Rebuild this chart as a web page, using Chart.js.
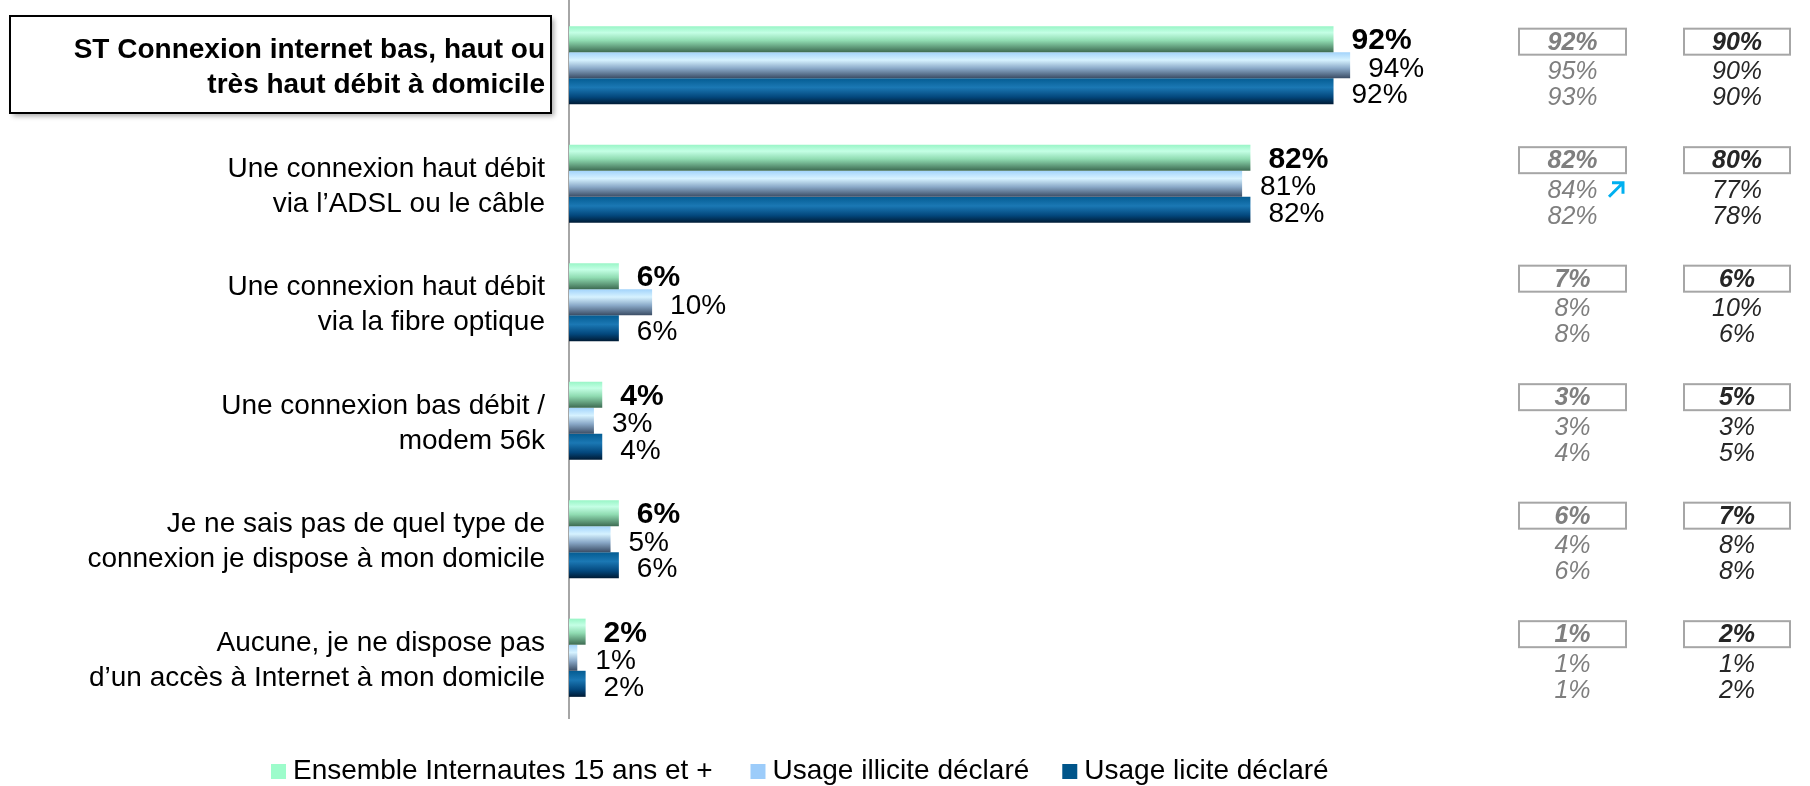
<!DOCTYPE html>
<html lang="fr">
<head>
<meta charset="utf-8">
<title>Connexion internet à domicile</title>
<script src="https://cdn.jsdelivr.net/npm/chart.js@4"></script>
<style>
    html, body { margin: 0; padding: 0; background: #fff; }
    #wrap { width: 1810px; height: 786px; position: relative; }
</style>
</head>
<body>
<div id="wrap"><canvas id="chart" width="1810" height="786"></canvas></div>
<script>
// --- DATA ---
const categories = [
    ['ST Connexion internet bas, haut ou', 'très haut débit à domicile'],
    ['Une connexion haut débit', 'via l’ADSL ou le câble'],
    ['Une connexion haut débit', 'via la fibre optique'],
    ['Une connexion bas débit /', 'modem 56k'],
    ['Je ne sais pas de quel type de', 'connexion je dispose à mon domicile'],
    ['Aucune, je ne dispose pas', 'd’un accès à Internet à mon domicile']
];
const seriesNames = ['Ensemble Internautes 15 ans et +', 'Usage illicite déclaré', 'Usage licite déclaré'];
const ensemble = [92, 82, 6, 4, 6, 2];
const illicite = [94, 81, 10, 3, 5, 1];
const licite = [92, 82, 6, 4, 6, 2];

// earlier waves, shown as text columns on the right
const vagueA_ensemble = [92, 82, 7, 3, 6, 1];
const vagueA_illicite = [95, 84, 8, 3, 4, 1];
const vagueA_licite = [93, 82, 8, 4, 6, 1];
const vagueB_ensemble = [90, 80, 6, 5, 7, 2];
const vagueB_illicite = [90, 77, 10, 3, 8, 1];
const vagueB_licite = [90, 78, 6, 5, 8, 2];
// significant rise markers: [category, row] in column A
const haussesA = [[1, 1]];

// --- STYLE ---
const FONT = "'Liberation Sans', Arial, sans-serif";
const CAT_PCT = 0.66;
const legendColors = ['#9dfccb', '#9cccfa', '#00558a'];
const gradStops = [
    [[0, '#98f5c6'], [0.25, '#c4ffe5'], [0.55, '#90dcb2'], [1, '#3d6b52']],
    [[0, '#a2d3fb'], [0.3, '#d6f2ff'], [0.62, '#8aa9c8'], [1, '#3a4c64']],
    [[0, '#045c92'], [0.35, '#1b78b4'], [0.72, '#03477c'], [1, '#001a33']]
];

function barGeometry(chart, index, dsIndex) {
    const y = chart.scales.y;
    const cat = (y.bottom - y.top) / categories.length;
    const barH = cat * CAT_PCT / 3;
    const center = y.getPixelForValue(index);
    const top = center - cat * CAT_PCT / 2 + dsIndex * barH;
    return { top, barH, center: top + barH / 2 };
}

function gradientFor(dsIndex) {
    return (ctx) => {
        const chart = ctx.chart;
        if (ctx.type !== 'data' || !chart.scales.y || !chart.chartArea) return legendColors[dsIndex];
        const g = barGeometry(chart, ctx.dataIndex, dsIndex);
        const grad = chart.ctx.createLinearGradient(0, g.top, 0, g.top + g.barH);
        gradStops[dsIndex].forEach(s => grad.addColorStop(s[0], s[1]));
        return grad;
    };
}

// --- PLUGINS ---
const decorPlugin = {
    id: 'decor',
    beforeDraw(chart) {
        const c = chart.ctx;
        // boxed first label
        c.save();
        c.shadowColor = 'rgba(0,0,0,0.35)';
        c.shadowBlur = 5;
        c.shadowOffsetX = 3;
        c.shadowOffsetY = 3;
        c.fillStyle = '#fff';
        c.fillRect(10, 16, 541, 97);
        c.restore();
        c.save();
        c.strokeStyle = '#000';
        c.lineWidth = 2;
        c.strokeRect(10, 16, 541, 97);
        // axis line
        c.strokeStyle = '#a6a6a6';
        c.lineWidth = 2;
        c.beginPath();
        c.moveTo(chart.chartArea.left, 0);
        c.lineTo(chart.chartArea.left, chart.chartArea.bottom + 2);
        c.stroke();
        c.restore();
    },
    afterDatasetsDraw(chart) {
        const c = chart.ctx;
        c.save();
        c.fillStyle = '#000';
        c.textBaseline = 'middle';
        c.textAlign = 'left';
        chart.data.datasets.forEach((ds, di) => {
            chart.getDatasetMeta(di).data.forEach((el, i) => {
                c.font = di === 0 ? `bold 30px ${FONT}` : `28px ${FONT}`;
                c.fillText(ds.data[i] + '%', el.x + 18, el.y + (di === 0 ? 2 : 4));
            });
        });
        c.restore();
    },
    afterDraw(chart) {
        const c = chart.ctx;
        const cols = [
            { x: 1519, w: 107, color: '#7f7f7f', vals: [vagueA_ensemble, vagueA_illicite, vagueA_licite] },
            { x: 1684, w: 106, color: '#262626', vals: [vagueB_ensemble, vagueB_illicite, vagueB_licite] }
        ];
        c.save();
        c.textAlign = 'center';
        c.textBaseline = 'middle';
        categories.forEach((_, i) => {
            cols.forEach((col, ci) => {
                const cx = col.x + col.w / 2;
                const g0 = barGeometry(chart, i, 0);
                const by = g0.center + 2.5;
                c.strokeStyle = '#a6a6a6';
                c.lineWidth = 2;
                c.strokeRect(col.x, by - 13, col.w, 26);
                c.fillStyle = col.color;
                c.font = `italic bold 25px ${FONT}`;
                c.fillText(col.vals[0][i] + '%', cx, by + 1);
                c.font = `italic 25px ${FONT}`;
                for (let k = 1; k < 3; k++) {
                    const g = barGeometry(chart, i, k);
                    c.fillText(col.vals[k][i] + '%', cx, g.center + 7);
                }
            });
        });
        // rise arrows
        haussesA.forEach(([i, k]) => {
            const g = barGeometry(chart, i, k);
            const ax = 1609, ay = g.center + 13;
            c.strokeStyle = '#00b0f0';
            c.lineWidth = 3;
            c.beginPath();
            c.moveTo(ax, ay);
            c.lineTo(ax + 14, ay - 14);
            c.moveTo(ax + 3, ay - 14);
            c.lineTo(ax + 14, ay - 14);
            c.lineTo(ax + 14, ay - 3);
            c.stroke();
        });
        // legend
        c.textAlign = 'left';
        c.font = `28px ${FONT}`;
        let x = 271;
        seriesNames.forEach((name, i) => {
            c.fillStyle = legendColors[i];
            c.fillRect(x, 764, 15, 15);
            c.fillStyle = '#000';
            c.fillText(name, x + 22, 771);
            x += 22 + c.measureText(name).width + (i === 0 ? 38 : 33);
        });
        c.restore();
    }
};

// --- CHART ---
new Chart(document.getElementById('chart'), {
    type: 'bar',
    data: {
        labels: categories,
        datasets: [
            { label: seriesNames[0], data: ensemble, backgroundColor: gradientFor(0) },
            { label: seriesNames[1], data: illicite, backgroundColor: gradientFor(1) },
            { label: seriesNames[2], data: licite, backgroundColor: gradientFor(2) }
        ]
    },
    options: {
        indexAxis: 'y',
        responsive: false,
        animation: false,
        devicePixelRatio: 1,
        categoryPercentage: CAT_PCT,
        barPercentage: 1,
        layout: { padding: { top: 6, right: 410, bottom: 69, left: 0 } },
        scales: {
            x: { display: false, min: 0, max: 100 },
            y: {
                grid: { display: false, drawTicks: false },
                border: { display: false },
                afterFit: s => { s.width = 569; s.paddingTop = 0; s.paddingBottom = 0; },
                ticks: {
                    padding: 24,
                    labelOffset: 3,
                    color: '#000',
                    font: ctx => ({ family: FONT, size: 28, weight: ctx.index === 0 ? 'bold' : 'normal', lineHeight: 1.25 })
                }
            }
        },
        plugins: {
            legend: { display: false },
            tooltip: { enabled: false }
        }
    },
    plugins: [decorPlugin]
});
</script>
</body>
</html>
